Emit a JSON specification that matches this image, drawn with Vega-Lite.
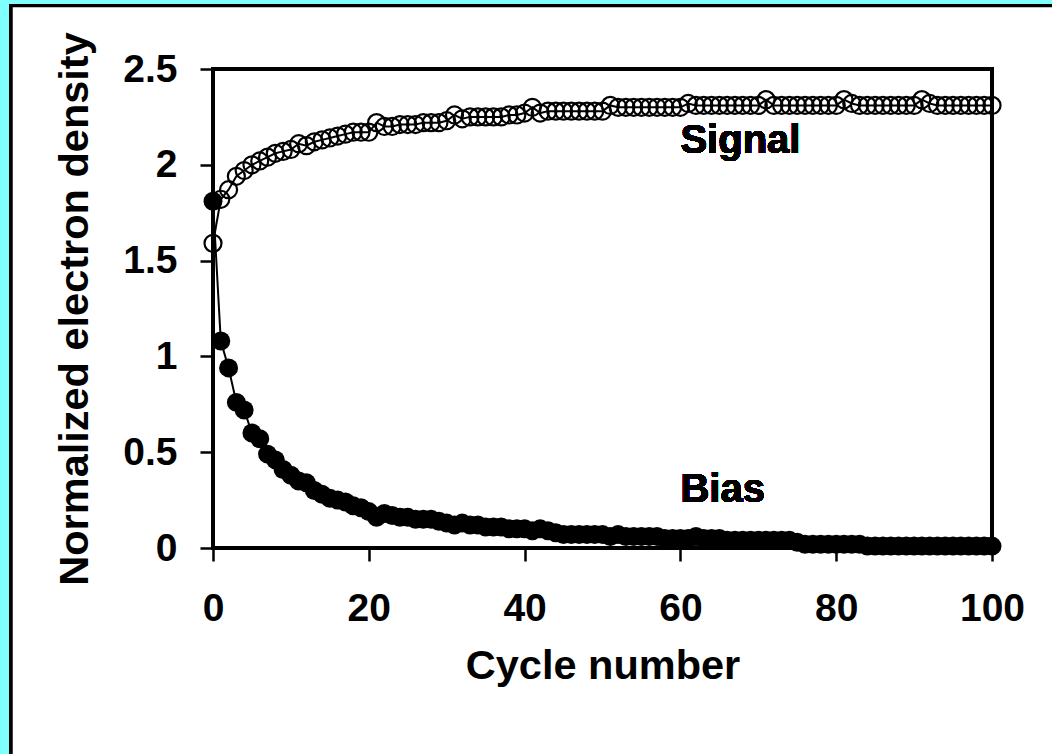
{
  "$schema": "https://vega.github.io/schema/vega-lite/v6.json",
  "autosize": "none",
  "width": 779,
  "height": 479,
  "padding": {"left": 213, "top": 69, "right": 60, "bottom": 206},
  "background": "#80FFFF",
  "config": {
    "view": {"stroke": null},
    "font": "Liberation Sans",
    "axis": {
      "grid": false,
      "domainColor": "black",
      "domainWidth": 2.5,
      "tickColor": "black",
      "tickWidth": 2.5,
      "tickSize": 13,
      "labelFlush": false,
      "labelOverlap": false,
      "labelFont": "Liberation Sans",
      "labelFontWeight": "bold",
      "labelFontSize": 39,
      "labelColor": "black",
      "titleFont": "Liberation Sans",
      "titleFontWeight": "bold",
      "titleFontSize": 41.5,
      "titleColor": "black"
    }
  },
  "data": {
    "values": [
      {"cycle": 0, "signal": 1.59, "bias": 1.81},
      {"cycle": 1, "signal": 1.82, "bias": 1.08},
      {"cycle": 2, "signal": 1.87, "bias": 0.94},
      {"cycle": 3, "signal": 1.94, "bias": 0.76},
      {"cycle": 4, "signal": 1.97, "bias": 0.72},
      {"cycle": 5, "signal": 2.0, "bias": 0.6},
      {"cycle": 6, "signal": 2.02, "bias": 0.57},
      {"cycle": 7, "signal": 2.04, "bias": 0.49},
      {"cycle": 8, "signal": 2.06, "bias": 0.46},
      {"cycle": 9, "signal": 2.07, "bias": 0.41},
      {"cycle": 10, "signal": 2.08, "bias": 0.38},
      {"cycle": 11, "signal": 2.11, "bias": 0.35},
      {"cycle": 12, "signal": 2.1, "bias": 0.34},
      {"cycle": 13, "signal": 2.12, "bias": 0.3},
      {"cycle": 14, "signal": 2.13, "bias": 0.28},
      {"cycle": 15, "signal": 2.14, "bias": 0.26},
      {"cycle": 16, "signal": 2.15, "bias": 0.25},
      {"cycle": 17, "signal": 2.16, "bias": 0.24},
      {"cycle": 18, "signal": 2.17, "bias": 0.22},
      {"cycle": 19, "signal": 2.17, "bias": 0.21},
      {"cycle": 20, "signal": 2.17, "bias": 0.19},
      {"cycle": 21, "signal": 2.22, "bias": 0.16},
      {"cycle": 22, "signal": 2.2, "bias": 0.18},
      {"cycle": 23, "signal": 2.2, "bias": 0.17},
      {"cycle": 24, "signal": 2.21, "bias": 0.16},
      {"cycle": 25, "signal": 2.21, "bias": 0.16},
      {"cycle": 26, "signal": 2.21, "bias": 0.15},
      {"cycle": 27, "signal": 2.22, "bias": 0.15},
      {"cycle": 28, "signal": 2.22, "bias": 0.15},
      {"cycle": 29, "signal": 2.22, "bias": 0.14},
      {"cycle": 30, "signal": 2.23, "bias": 0.13},
      {"cycle": 31, "signal": 2.26, "bias": 0.12},
      {"cycle": 32, "signal": 2.24, "bias": 0.13},
      {"cycle": 33, "signal": 2.25, "bias": 0.12},
      {"cycle": 34, "signal": 2.25, "bias": 0.12},
      {"cycle": 35, "signal": 2.25, "bias": 0.11},
      {"cycle": 36, "signal": 2.25, "bias": 0.11},
      {"cycle": 37, "signal": 2.25, "bias": 0.11},
      {"cycle": 38, "signal": 2.26, "bias": 0.1},
      {"cycle": 39, "signal": 2.26, "bias": 0.1},
      {"cycle": 40, "signal": 2.27, "bias": 0.1},
      {"cycle": 41, "signal": 2.3, "bias": 0.09},
      {"cycle": 42, "signal": 2.27, "bias": 0.1},
      {"cycle": 43, "signal": 2.28, "bias": 0.09},
      {"cycle": 44, "signal": 2.28, "bias": 0.08},
      {"cycle": 45, "signal": 2.28, "bias": 0.07},
      {"cycle": 46, "signal": 2.28, "bias": 0.07},
      {"cycle": 47, "signal": 2.28, "bias": 0.07},
      {"cycle": 48, "signal": 2.28, "bias": 0.07},
      {"cycle": 49, "signal": 2.28, "bias": 0.07},
      {"cycle": 50, "signal": 2.28, "bias": 0.07},
      {"cycle": 51, "signal": 2.31, "bias": 0.06},
      {"cycle": 52, "signal": 2.3, "bias": 0.07},
      {"cycle": 53, "signal": 2.3, "bias": 0.06},
      {"cycle": 54, "signal": 2.3, "bias": 0.06},
      {"cycle": 55, "signal": 2.3, "bias": 0.06},
      {"cycle": 56, "signal": 2.3, "bias": 0.06},
      {"cycle": 57, "signal": 2.3, "bias": 0.06},
      {"cycle": 58, "signal": 2.3, "bias": 0.05},
      {"cycle": 59, "signal": 2.3, "bias": 0.05},
      {"cycle": 60, "signal": 2.3, "bias": 0.05},
      {"cycle": 61, "signal": 2.32, "bias": 0.05},
      {"cycle": 62, "signal": 2.31, "bias": 0.06},
      {"cycle": 63, "signal": 2.31, "bias": 0.05},
      {"cycle": 64, "signal": 2.31, "bias": 0.05},
      {"cycle": 65, "signal": 2.31, "bias": 0.05},
      {"cycle": 66, "signal": 2.31, "bias": 0.04},
      {"cycle": 67, "signal": 2.31, "bias": 0.04},
      {"cycle": 68, "signal": 2.31, "bias": 0.04},
      {"cycle": 69, "signal": 2.31, "bias": 0.04},
      {"cycle": 70, "signal": 2.31, "bias": 0.04},
      {"cycle": 71, "signal": 2.34, "bias": 0.04},
      {"cycle": 72, "signal": 2.31, "bias": 0.04},
      {"cycle": 73, "signal": 2.31, "bias": 0.04},
      {"cycle": 74, "signal": 2.31, "bias": 0.04},
      {"cycle": 75, "signal": 2.31, "bias": 0.03},
      {"cycle": 76, "signal": 2.31, "bias": 0.02},
      {"cycle": 77, "signal": 2.31, "bias": 0.02},
      {"cycle": 78, "signal": 2.31, "bias": 0.02},
      {"cycle": 79, "signal": 2.31, "bias": 0.02},
      {"cycle": 80, "signal": 2.31, "bias": 0.02},
      {"cycle": 81, "signal": 2.34, "bias": 0.02},
      {"cycle": 82, "signal": 2.32, "bias": 0.02},
      {"cycle": 83, "signal": 2.31, "bias": 0.02},
      {"cycle": 84, "signal": 2.31, "bias": 0.01},
      {"cycle": 85, "signal": 2.31, "bias": 0.01},
      {"cycle": 86, "signal": 2.31, "bias": 0.01},
      {"cycle": 87, "signal": 2.31, "bias": 0.01},
      {"cycle": 88, "signal": 2.31, "bias": 0.01},
      {"cycle": 89, "signal": 2.31, "bias": 0.01},
      {"cycle": 90, "signal": 2.31, "bias": 0.01},
      {"cycle": 91, "signal": 2.34, "bias": 0.01},
      {"cycle": 92, "signal": 2.32, "bias": 0.01},
      {"cycle": 93, "signal": 2.31, "bias": 0.01},
      {"cycle": 94, "signal": 2.31, "bias": 0.01},
      {"cycle": 95, "signal": 2.31, "bias": 0.01},
      {"cycle": 96, "signal": 2.31, "bias": 0.01},
      {"cycle": 97, "signal": 2.31, "bias": 0.01},
      {"cycle": 98, "signal": 2.31, "bias": 0.01},
      {"cycle": 99, "signal": 2.31, "bias": 0.01},
      {"cycle": 100, "signal": 2.31, "bias": 0.01}
    ]
  },
  "layer": [
    {
      "mark": {"type": "rect", "fill": "white", "stroke": "black", "strokeWidth": 3},
      "encoding": {
        "x": {"datum": -25.9, "type": "quantitative", "scale": {"domain": [0, 100], "nice": false, "zero": false},
          "axis": {"values": [0, 20, 40, 60, 80, 100], "title": "Cycle number", "labelPadding": 28, "titlePadding": 17, "zindex": 2}},
        "x2": {"datum": 115},
        "y": {"datum": 2.83, "type": "quantitative", "scale": {"domain": [0, 2.5], "nice": false},
          "axis": {"values": [0, 0.5, 1, 1.5, 2, 2.5], "format": "~g", "title": "Normalized electron density", "labelPadding": 23, "titlePadding": 26, "zindex": 2}},
        "y2": {"datum": -1.3}
      }
    },
    {
      "mark": {"type": "rect", "fill": null, "stroke": "black", "strokeWidth": 2.5},
      "encoding": {
        "x": {"datum": 0, "type": "quantitative"},
        "x2": {"datum": 100},
        "y": {"datum": 2.5, "type": "quantitative"},
        "y2": {"datum": 0}
      }
    },
    {
      "mark": {"type": "line", "color": "black", "strokeWidth": 2},
      "encoding": {"x": {"field": "cycle", "type": "quantitative"}, "y": {"field": "signal", "type": "quantitative"}}
    },
    {
      "mark": {"type": "point", "shape": "circle", "filled": false, "stroke": "black", "strokeWidth": 2.2, "size": 290, "opacity": 1},
      "encoding": {"x": {"field": "cycle", "type": "quantitative"}, "y": {"field": "signal", "type": "quantitative"}}
    },
    {
      "mark": {"type": "line", "color": "black", "strokeWidth": 2},
      "encoding": {"x": {"field": "cycle", "type": "quantitative"}, "y": {"field": "bias", "type": "quantitative"}}
    },
    {
      "mark": {"type": "point", "shape": "circle", "filled": true, "color": "black", "size": 360, "opacity": 1},
      "encoding": {"x": {"field": "cycle", "type": "quantitative"}, "y": {"field": "bias", "type": "quantitative"}}
    },
    {
      "mark": {"type": "text", "text": "Signal", "align": "left", "baseline": "alphabetic", "fontSize": 40, "fontWeight": "bold", "font": "Liberation Sans", "color": "black"},
      "encoding": {"x": {"datum": 60, "type": "quantitative"}, "y": {"datum": 2.06, "type": "quantitative"}}
    },
    {
      "mark": {"type": "text", "text": "Bias", "align": "left", "baseline": "alphabetic", "fontSize": 40, "fontWeight": "bold", "font": "Liberation Sans", "color": "black"},
      "encoding": {"x": {"datum": 60, "type": "quantitative"}, "y": {"datum": 0.242, "type": "quantitative"}}
    }
  ]
}
